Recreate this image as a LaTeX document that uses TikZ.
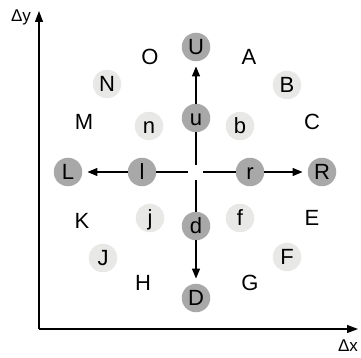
\documentclass[tikz,border=0pt]{standalone}
\usepackage{fontspec}
\setmainfont{Liberation Sans}
\usetikzlibrary{arrows.meta}
\definecolor{darkc}{HTML}{A8A8A8}
\definecolor{lightc}{HTML}{E8E8E6}
\begin{document}
\begin{tikzpicture}[x=1pt,y=-1pt,
  lbl/.style={font=\fontsize{22}{24}\selectfont, inner sep=0pt, text height=15.8pt, text depth=0pt, anchor=center},
  dk/.style={lbl, circle, fill=darkc, minimum size=28.5pt},
  lt/.style={lbl, circle, fill=lightc, minimum size=28.5pt},
  conn/.style={line width=1.3pt, black},
  arr/.style={conn, -{Triangle[length=10pt,width=8pt]}, shorten >=5pt},
  axis/.style={line width=1.2pt, black, -{Triangle[length=11pt,width=8pt]}},
  axl/.style={font=\fontsize{17}{20}\selectfont, inner sep=0pt}]
\useasboundingbox (0,0) rectangle (361,358);
% axes
\coordinate (O0) at (39,329);
\coordinate (Ytop) at (39,11);
\coordinate (Xend) at (358,329);
\draw[axis] (O0) -- (Ytop);
\draw[axis] (O0) -- (Xend);
\node[axl] (dy) at (21,17) {Δy};
\node[axl] (dx) at (348,346) {Δx};
% dark nodes
\node[dk] (U) at (196,47) {U};
\node[dk] (u) at (196,118) {u};
\node[dk] (d) at (196,226) {d};
\node[dk] (D) at (196,298) {D};
\node[dk] (L) at (68,172) {L};
\node[dk] (l) at (142,172) {l};
\node[dk] (r) at (250,172) {r};
\node[dk] (R) at (322,172) {R};
% light nodes
\node[lt] (N) at (107,84) {N};
\node[lt] (B) at (287,85) {B};
\node[lt] (n) at (149,126) {n};
\node[lt] (b) at (240,126) {b};
\node[lt] (j) at (150,218) {j};
\node[lt] (f) at (240,218) {f};
\node[lt] (J) at (103,258) {J};
\node[lt] (F) at (287,257) {F};
% plain letters
\node[lbl] (O) at (150,57) {O};
\node[lbl] (A) at (249,57) {A};
\node[lbl] (M) at (84,122) {M};
\node[lbl] (C) at (312,122) {C};
\node[lbl] (K) at (82,221) {K};
\node[lbl] (E) at (312,218) {E};
\node[lbl] (H) at (143,283) {H};
\node[lbl] (G) at (250,283) {G};
% center gap coordinates
\coordinate (cu) at (196,165);
\coordinate (cd) at (196,180);
\coordinate (cl) at (188,172);
\coordinate (cr) at (203,172);
% connectors
\draw[conn] (cu) -- (u);
\draw[arr] (u) -- (U);
\draw[conn] (cd) -- (d);
\draw[arr] (d) -- (D);
\draw[conn] (cl) -- (l);
\draw[arr] (l) -- (L);
\draw[conn] (cr) -- (r);
\draw[arr] (r) -- (R);
\end{tikzpicture}
\end{document}
